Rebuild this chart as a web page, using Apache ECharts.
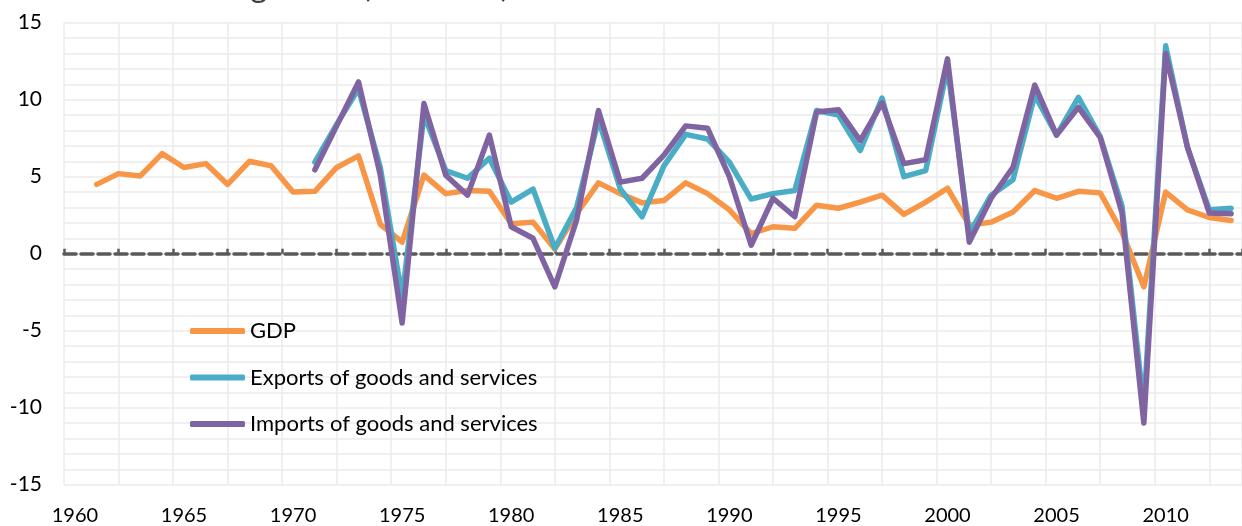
<!DOCTYPE html>
<html>
<head>
<meta charset="utf-8">
<script src="https://cdn.jsdelivr.net/npm/echarts@6/dist/echarts.min.js"></script>
<style>
html,body{margin:0;padding:0;background:#fff;}
#chart{width:1242px;height:526px;}
</style>
</head>
<body>
<div id="chart"></div>
<script>
const years = [];
for (let y = 1960; y <= 2013; y++) years.push(y);

const gdp = [null,
  4.5, 5.2, 5.05, 6.5, 5.6, 5.85, 4.5, 6.0, 5.7, 4.0,
  4.05, 5.6, 6.35, 1.9, 0.75, 5.1, 3.9, 4.1, 4.05, 1.95,
  2.05, 0.3, 2.6, 4.6, 3.9, 3.3, 3.45, 4.6, 3.9, 2.85,
  1.3, 1.75, 1.65, 3.15, 2.95, 3.35, 3.8, 2.55, 3.35, 4.25,
  1.85, 2.05, 2.7, 4.1, 3.6, 4.05, 3.95, 1.4, -2.15, 4.0,
  2.85, 2.35, 2.15];

const exportsG = [null, null, null, null, null, null, null, null, null, null, null,
  5.95, 8.4, 10.7, 5.6, -2.8, 9.0, 5.4, 4.9, 6.2, 3.35,
  4.2, 0.35, 3.0, 8.7, 4.2, 2.4, 5.7, 7.75, 7.45, 5.95,
  3.55, 3.9, 4.1, 9.3, 9.0, 6.7, 10.1, 5.0, 5.4, 12.1,
  1.3, 3.8, 4.8, 10.3, 7.7, 10.15, 7.6, 3.1, -10.0, 13.5,
  6.9, 2.85, 2.95];

const importsG = [null, null, null, null, null, null, null, null, null, null, null,
  5.45, 8.3, 11.15, 5.1, -4.5, 9.75, 5.1, 3.8, 7.7, 1.75,
  1.0, -2.15, 2.2, 9.3, 4.65, 4.9, 6.4, 8.3, 8.15, 5.0,
  0.55, 3.6, 2.4, 9.2, 9.35, 7.35, 9.8, 5.85, 6.1, 12.65,
  0.75, 3.6, 5.6, 10.95, 7.7, 9.5, 7.55, 2.65, -11.0, 13.0,
  6.9, 2.65, 2.6];

const xLabelYears = [1960, 1965, 1970, 1975, 1980, 1985, 1990, 1995, 2000, 2005, 2010];
const seriesNames = ['GDP', 'Exports of goods and services', 'Imports of goods and services'];
const titleText = 'World GDP and trade growth (annual %)';

const colors = ['#F79646', '#4BACC6', '#8064A2'];
const FONT = 'Lato';

function pairs(arr) {
  return years.map((y, i) => [y, arr[i]]).filter(p => p[1] !== null);
}

const chart = echarts.init(document.getElementById('chart'), null, {renderer: 'canvas'});

const mkSeries = (name, arr, color) => ({
  name: name,
  type: 'line',
  xAxisIndex: 0,
  yAxisIndex: 0,
  data: pairs(arr),
  symbol: 'none',
  showSymbol: false,
  smooth: false,
  lineStyle: {color: color, width: 5.5, cap: 'round', join: 'round'},
  itemStyle: {color: color},
  emphasis: {disabled: true},
  animation: false
});

chart.setOption({
  animation: false,
  backgroundColor: '#ffffff',
  title: {
    text: titleText,
    left: -76,
    top: -35,
    textStyle: {fontFamily: FONT, fontSize: 33, fontWeight: 'normal', color: '#404040'}
  },
  color: colors,
  grid: {left: 64, right: -13, top: 22.7, bottom: 41.3, containLabel: false},
  legend: {
    orient: 'vertical',
    left: 185,
    top: 314,
    itemWidth: 55,
    itemHeight: 6,
    itemGap: 22.5,
    icon: 'roundRect',
    textStyle: {fontFamily: FONT, fontSize: 22, color: '#000', lineHeight: 24},
    data: seriesNames
  },
  xAxis: [
    {
      type: 'value',
      min: 1959.5,
      max: 2013.5,
      interval: 2.5,
      axisLine: {show: false, onZero: false},
      axisTick: {show: false},
      splitLine: {show: true, lineStyle: {color: '#EBEBEB', width: 1.5}},
      axisLabel: {
        show: true,
        customValues: xLabelYears,
        margin: 21,
        fontFamily: FONT,
        fontSize: 20,
        color: '#000',
        formatter: v => String(v)
      }
    },
    {
      type: 'value',
      position: 'bottom',
      min: 1959.5,
      max: 2013.5,
      interval: 2.5,
      axisLine: {show: true, onZero: true, onZeroAxisIndex: 0,
        lineStyle: {color: '#595959', width: 3.5, type: [12, 5]}},
      axisTick: {show: true, inside: true, length: 5, lineStyle: {color: '#595959', width: 2.5}},
      axisLabel: {show: false},
      splitLine: {show: false}
    }
  ],
  yAxis: {
    type: 'value',
    min: -15,
    max: 15,
    interval: 1,
    axisLine: {show: false},
    axisTick: {show: false},
    splitLine: {show: true, lineStyle: {color: '#EBEBEB', width: 1.5}},
    axisLabel: {
      margin: 22,
      fontFamily: FONT,
      fontSize: 21,
      color: '#000',
      formatter: v => (v % 5 === 0 ? String(v) : '')
    }
  },
  series: [
    mkSeries(seriesNames[0], gdp, colors[0]),
    mkSeries(seriesNames[1], exportsG, colors[1]),
    mkSeries(seriesNames[2], importsG, colors[2])
  ]
});
</script>
</body>
</html>
